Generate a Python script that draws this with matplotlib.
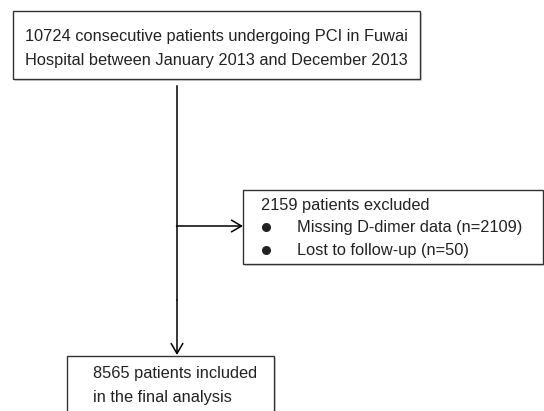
import matplotlib.pyplot as plt
from matplotlib.patches import Rectangle, FancyArrowPatch

# --------------------------------------------------------------------------
# Flowchart content
# --------------------------------------------------------------------------
TOP_LINES = [
    "10724 consecutive patients undergoing PCI in Fuwai",
    "Hospital between January 2013 and December 2013",
]
EXCL_TITLE = "2159 patients excluded"
EXCL_ITEMS = ["Missing D-dimer data (n=2109)", "Lost to follow-up (n=50)"]
FINAL_LINES = ["8565 patients included", "in the final analysis"]

W, H = 544, 411
FS = 11.8
FONT = "Liberation Sans"


def box(ax, x0, y0, x1, y1):
    # light drop shadow, then the box
    ax.add_patch(Rectangle((x0 + 2, y0 + 2), x1 - x0, y1 - y0, fc="#d8d8d8", ec="none", zorder=1))
    ax.add_patch(Rectangle((x0, y0), x1 - x0, y1 - y0, fc="white", ec="#333333", lw=1.0, zorder=2))


def arrow(ax, p0, p1):
    ax.add_patch(FancyArrowPatch(p0, p1, arrowstyle="->,head_length=0.6,head_width=0.35",
                                 mutation_scale=12, color="black", lw=1.1, zorder=3,
                                 shrinkA=0, shrinkB=0))


def main():
    fig = plt.figure(figsize=(W / 100, H / 100), dpi=100)
    ax = fig.add_axes([0, 0, 1, 1])
    ax.set_xlim(0, W)
    ax.set_ylim(H, 0)
    ax.axis("off")

    # boxes
    box(ax, 13, 11, 420, 79)
    box(ax, 243, 190, 543, 264)
    box(ax, 67, 356, 274, 430)

    # connectors
    ax.plot([177, 177], [86, 300], color="black", lw=1.1, zorder=3)
    arrow(ax, (177, 300), (177, 355))
    arrow(ax, (176.5, 226), (243, 226))

    kw = dict(fontsize=FS, family=FONT, color="#222222", va="center", zorder=4)
    for i, line in enumerate(TOP_LINES):
        ax.text(216, 36 + 24 * i, line, ha="center", **kw)

    ax.text(261, 205, EXCL_TITLE, ha="left", **kw)
    for i, item in enumerate(EXCL_ITEMS):
        y = 227 + 23 * i
        ax.plot(266, y, "o", color="#222222", ms=5.5, zorder=4)
        ax.text(297, y, item, ha="left", **kw)

    for i, line in enumerate(FINAL_LINES):
        ax.text(93, 373 + 24 * i, line, ha="left", **kw)

    fig.savefig("out.png", dpi=100)


if __name__ == "__main__":
    main()
